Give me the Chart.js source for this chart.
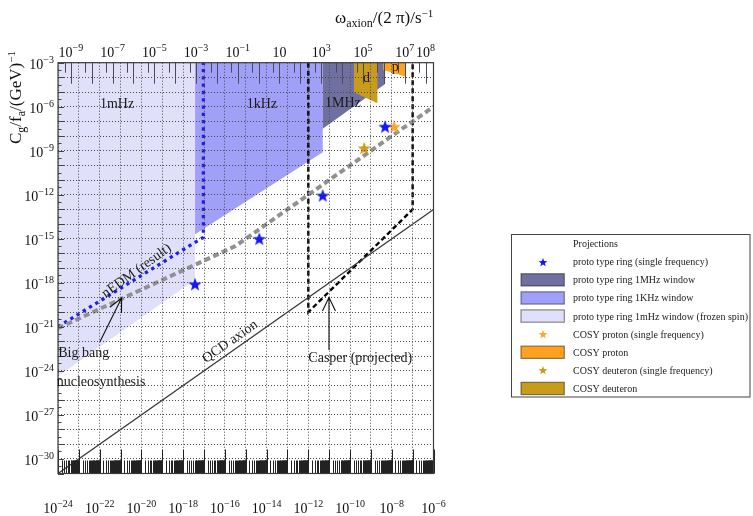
<!DOCTYPE html>
<html>
<head>
<meta charset="utf-8">
<script src="https://cdn.jsdelivr.net/npm/chart.js@4.4.1/dist/chart.umd.min.js"></script>
<style>
  html, body { margin: 0; padding: 0; background: #fff; }
  canvas { display: block; }
</style>
</head>
<body>
<canvas id="c" width="753" height="516"></canvas>
<script>
// All values are decimal exponents: log10(axion mass / eV) and log10(C_g/f_a / GeV^-1)

// tick labels (powers of ten)
const massTickExp = [-24, -22, -20, -18, -16, -14, -12, -10, -8, -6];
const couplingTickExp = [-3, -6, -9, -12, -15, -18, -21, -24, -27, -30];
const freqTickExp = [-9, -7, -5, -3, -1, 1, 3, 5, 7, 8];

// proto type ring windows
const ring1mHzMass = [-24, -24, -17.43, -17.43];
const ring1mHzCoupling = [-3, -24.37, -17.8, -3];
const ring1kHzMass = [-17.43, -17.43, -11.31, -11.31];
const ring1kHzCoupling = [-3, -14.7, -9.1, -3];
const ring1MHzMass = [-11.31, -11.31, -8.32, -8.32];
const ring1MHzCoupling = [-3, -7.5, -4.45, -3];

// COSY windows
const cosyDeuteronMass = [-9.81, -9.81, -8.69, -8.69];
const cosyDeuteronCoupling = [-3, -5.01, -5.76, -3];
const cosyProtonMass = [-8.41, -8.41, -7.32, -7.32];
const cosyProtonCoupling = [-3, -3.5, -3.95, -3];

// single frequency projections
const ringStarMass = [-17.43, -14.35, -11.31, -8.32];
const ringStarCoupling = [-18.1, -15.0, -12.05, -7.36];
const cosyProtonStarMass = [-7.89];
const cosyProtonStarCoupling = [-7.36];
const cosyDeuteronStarMass = [-9.32];
const cosyDeuteronStarCoupling = [-8.83];

// limits and theory lines
const nedmMass = [-24, -17.03, -17.03];
const nedmCoupling = [-21, -14.9, -3];
const bbnMass = [-24, -15.5, -6];
const bbnCoupling = [-21.1, -15.5, -6];
const casperMass = [-12, -12, -7, -7];
const casperCoupling = [-3, -20, -13, -3];
const qcdMass = [-24, -6];
const qcdCoupling = [-31, -13];

// annotation arrows (tail, head)
const bbnArrowMass = [-21.99, -20.95];
const bbnArrowCoupling = [-22.02, -19.04];
const casperArrowMass = [-11.01, -11.01];
const casperArrowCoupling = [-22.58, -19.0];

const HZ_PER_EV = 2.418e14;
const SERIF = '"Liberation Serif", "DejaVu Serif", serif';

const COL = {
  light: 'rgb(224,224,250)',
  mid: 'rgb(160,160,248)',
  dark: 'rgb(112,112,160)',
  gold: 'rgb(200,156,26)',
  orange: 'rgb(255,162,32)',
  blue: 'rgb(20,20,255)',
  starOrange: 'rgb(255,165,40)',
  starGold: 'rgb(205,156,22)'
};

const pts = (xs, ys) => xs.map((x, i) => ({ x: Math.pow(10, x), y: Math.pow(10, ys[i]) }));

function starImage(color, outer) {
  const inner = outer * 0.42;
  const s = Math.ceil(outer * 2 + 2);
  const cv = document.createElement('canvas');
  cv.width = s; cv.height = s;
  const g = cv.getContext('2d');
  g.beginPath();
  for (let i = 0; i < 10; i++) {
    const r = i % 2 ? inner : outer;
    const a = -Math.PI / 2 + i * Math.PI / 5;
    const px = s / 2 + r * Math.cos(a), py = s / 2 + 0.6 + r * Math.sin(a);
    if (i) g.lineTo(px, py); else g.moveTo(px, py);
  }
  g.closePath();
  g.fillStyle = color;
  g.fill();
  return cv;
}

const areaSet = (label, xs, ys, color, order) => ({
  label, data: pts(xs, ys), showLine: true, fill: 'shape',
  backgroundColor: color, borderColor: 'rgba(0,0,0,0)', borderWidth: 0,
  pointRadius: 0, order, kind: 'area'
});
const starSet = (label, xs, ys, color) => ({
  label, data: pts(xs, ys), showLine: false,
  pointStyle: starImage(color, 7), pointRadius: 7, backgroundColor: color,
  order: 1, kind: 'star', legendStar: starImage(color, 4.6)
});
const lineSet = (label, xs, ys, color, width, dash) => ({
  label, data: pts(xs, ys), showLine: true, fill: false,
  borderColor: color, borderWidth: width, borderDash: dash, borderCapStyle: 'butt',
  pointRadius: 0, order: 5, kind: 'line'
});

const datasets = [
  areaSet('proto type ring 1mHz window (frozen spin)', ring1mHzMass, ring1mHzCoupling, COL.light, 15),
  areaSet('proto type ring 1KHz window', ring1kHzMass, ring1kHzCoupling, COL.mid, 14),
  areaSet('proto type ring 1MHz window', ring1MHzMass, ring1MHzCoupling, COL.dark, 13),
  areaSet('COSY deuteron', cosyDeuteronMass, cosyDeuteronCoupling, COL.gold, 12),
  areaSet('COSY proton', cosyProtonMass, cosyProtonCoupling, COL.orange, 11),
  lineSet('QCD axion', qcdMass, qcdCoupling, 'rgb(55,55,55)', 1.3, []),
  lineSet('Big bang nucleosynthesis', bbnMass, bbnCoupling, 'rgb(145,145,145)', 4, [6, 3.5]),
  lineSet('nEDM (result)', nedmMass, nedmCoupling, 'rgb(30,30,235)', 3.3, [3.3, 4]),
  lineSet('Casper (projected)', casperMass, casperCoupling, '#000', 2.4, [5, 3]),
  starSet('proto type ring (single frequency)', ringStarMass, ringStarCoupling, COL.blue),
  starSet('COSY proton (single frequency)', cosyProtonStarMass, cosyProtonStarCoupling, COL.starOrange),
  starSet('COSY deuteron (single frequency)', cosyDeuteronStarMass, cosyDeuteronStarCoupling, COL.starGold)
];

const legendTitle = 'Projections';
const legendOrder = [
  'proto type ring (single frequency)',
  'proto type ring 1MHz window',
  'proto type ring 1KHz window',
  'proto type ring 1mHz window (frozen spin)',
  'COSY proton (single frequency)',
  'COSY proton',
  'COSY deuteron (single frequency)',
  'COSY deuteron'
];

// labels placed in data space: [text, log10 mass, log10 coupling (baseline)]
const plotLabels = [
  ['1mHz', -21.99, -6.09],
  ['1kHz', -14.95, -6.09],
  ['1MHz', -11.2, -5.99],
  ['d', -9.38, -4.34],
  ['p', -8.0, -3.59],
  ['Big bang', -23.99, -23.04],
  ['nucleosynthesis', -24.06, -25.05],
  ['Casper (projected)', -12.0, -23.37]
];
// rotated labels: [text, log10 mass, log10 coupling (centre), rotation deg]
const rotatedLabels = [
  ['nEDM (result)', -20.23, -17.19, -36],
  ['QCD axion', -15.75, -22.02, -35]
];

const decadeTicks = (lo, hi) => {
  const t = [];
  for (let e = lo; e <= hi; e++) t.push({ value: Math.pow(10, e) });
  return t;
};

function drawPow(ctx, x, y, exp, align, baseSize, expSize, raise) {
  const base = '10';
  const ex = exp === 1 ? '' : (exp < 0 ? '\u2212' + Math.abs(exp) : String(exp));
  ctx.font = baseSize + 'px ' + SERIF;
  const wb = ctx.measureText(base).width;
  ctx.font = expSize + 'px ' + SERIF;
  const we = ex ? ctx.measureText(ex).width : 0;
  const tot = wb + we;
  let x0 = align === 'right' ? x - tot : x - tot / 2;
  ctx.textAlign = 'left';
  ctx.textBaseline = 'alphabetic';
  ctx.font = baseSize + 'px ' + SERIF;
  ctx.fillText(base, x0, y);
  if (ex) {
    ctx.font = expSize + 'px ' + SERIF;
    ctx.fillText(ex, x0 + wb, y - raise);
  }
}

// run of text with sub/superscript parts: [text, size, shift]
function drawRuns(ctx, x, y, runs) {
  let cx = x;
  ctx.textAlign = 'left';
  ctx.textBaseline = 'alphabetic';
  for (const [t, size, shift] of runs) {
    ctx.font = size + 'px ' + SERIF;
    ctx.fillText(t, cx, y + shift);
    cx += ctx.measureText(t).width;
  }
}

function arrow(ctx, x1, y1, x2, y2) {
  ctx.beginPath();
  ctx.moveTo(x1, y1); ctx.lineTo(x2, y2);
  const ang = Math.atan2(y1 - y2, x1 - x2);
  const L = 15, spread = 0.45;
  ctx.moveTo(x2 + L * Math.cos(ang - spread), y2 + L * Math.sin(ang - spread));
  ctx.lineTo(x2, y2);
  ctx.lineTo(x2 + L * Math.cos(ang + spread), y2 + L * Math.sin(ang + spread));
  ctx.stroke();
}

const barcodeSteps = [1.5, 2, 2.5, 3, 3.5, 4, 4.3, 4.6, 5, 5.3, 5.6, 6, 6.3, 6.6, 7, 7.3, 7.6, 8, 8.3, 8.6, 9, 9.3, 9.6];

const decor = {
  id: 'decor',
  afterDraw(chart) {
    const { ctx, chartArea: a, scales } = chart;
    const sx = scales.x, sy = scales.y, sf = scales.xf;
    const px = e => sx.getPixelForValue(Math.pow(10, e));
    const py = e => sy.getPixelForValue(Math.pow(10, e));
    ctx.save();

    // axis ticks
    ctx.lineWidth = 1;
    ctx.strokeStyle = '#222';
    ctx.beginPath();
    for (let d = -24; d < -6; d++) {
      for (const k of barcodeSteps) {
        const x = Math.round(sx.getPixelForValue(k * Math.pow(10, d))) + 0.5;
        ctx.moveTo(x, a.bottom); ctx.lineTo(x, a.bottom - 13);
      }
    }
    ctx.stroke();
    ctx.beginPath();
    for (let d = -24; d <= -6; d++) {
      const x = Math.round(px(d)) + 0.5;
      ctx.moveTo(x, a.bottom); ctx.lineTo(x, a.bottom - 24);
    }
    ctx.stroke();

    ctx.strokeStyle = '#444';
    ctx.beginPath();
    for (let e = -31; e <= -3; e += 0.5) {
      const y = Math.round(py(e)) + 0.5;
      const len = Number.isInteger(e) ? 6 : 3.5;
      ctx.moveTo(a.left, y); ctx.lineTo(a.left + len, y);
    }
    ctx.stroke();

    ctx.strokeStyle = '#4a4a5e';
    ctx.beginPath();
    for (let e = -10; e <= 8; e++) {
      for (const [k, len] of [[1, 21], [5, 10]]) {
        const v = k * Math.pow(10, e);
        if (v < sf.min || v > sf.max) continue;
        const x = Math.round(sf.getPixelForValue(v)) + 0.5;
        ctx.moveTo(x, a.top); ctx.lineTo(x, a.top + len);
      }
    }
    ctx.stroke();

    // frame
    ctx.strokeStyle = '#3c3c3c';
    ctx.lineWidth = 1.2;
    ctx.strokeRect(a.left, a.top, a.right - a.left, a.bottom - a.top);

    // tick labels
    ctx.fillStyle = '#111';
    for (const e of massTickExp) drawPow(ctx, px(e), 512.5, e, 'center', 14, 10, 5.5);
    for (const e of couplingTickExp) drawPow(ctx, 54, py(e) + 6.5, e, 'right', 14, 10, 6);
    for (const e of freqTickExp) drawPow(ctx, sf.getPixelForValue(Math.pow(10, e)), 56.7, e, 'center', 14, 10, 6);

    // axis titles
    drawRuns(ctx, 335, 22.7, [['\u03c9', 17, 0], ['axion', 12, 4], ['/(2 \u03c0)/s', 17, 0], ['\u22121', 11, -5.5]]);
    ctx.save();
    ctx.translate(21, 144);
    ctx.rotate(-Math.PI / 2);
    drawRuns(ctx, 0, 0, [['C', 17, 0], ['g', 12, 4], ['/f', 17, 0], ['a', 12, 4], ['/(GeV)', 17, 0], ['\u22121', 11, -6]]);
    ctx.restore();

    // region and curve labels
    ctx.fillStyle = '#1a1a1a';
    ctx.font = '14px ' + SERIF;
    ctx.textBaseline = 'alphabetic';
    ctx.textAlign = 'left';
    for (const [t, m, c] of plotLabels) ctx.fillText(t, px(m), py(c));
    for (const [t, m, c, rot] of rotatedLabels) {
      ctx.save();
      ctx.translate(px(m), py(c));
      ctx.rotate(rot * Math.PI / 180);
      ctx.textAlign = 'center';
      ctx.textBaseline = 'middle';
      ctx.fillText(t, 0, 0);
      ctx.restore();
    }

    // arrows
    ctx.strokeStyle = '#111';
    ctx.lineWidth = 1.1;
    arrow(ctx, px(bbnArrowMass[0]), py(bbnArrowCoupling[0]), px(bbnArrowMass[1]), py(bbnArrowCoupling[1]));
    arrow(ctx, px(casperArrowMass[0]), py(casperArrowCoupling[0]), px(casperArrowMass[1]), py(casperArrowCoupling[1]));

    // legend
    const L = { x: 511.5, y: 234.5, w: 238.5, h: 162.5, sym: 542.7, text: 573, first: 261.7, step: 18.1 };
    ctx.fillStyle = '#fff';
    ctx.fillRect(L.x, L.y, L.w, L.h);
    ctx.strokeStyle = '#444';
    ctx.lineWidth = 1;
    ctx.strokeRect(L.x, L.y, L.w, L.h);
    ctx.fillStyle = '#1a1a1a';
    ctx.font = '10px ' + SERIF;
    ctx.textAlign = 'left';
    ctx.textBaseline = 'alphabetic';
    ctx.fillText(legendTitle, L.text, 246.8);
    legendOrder.forEach((name, i) => {
      const ds = chart.data.datasets.find(d => d.label === name);
      const cy = L.first + i * L.step;
      if (ds.kind === 'area') {
        ctx.fillStyle = ds.backgroundColor;
        ctx.fillRect(521, cy - 6.1, 43.3, 12.3);
        ctx.strokeStyle = 'rgba(0,0,0,0.45)';
        ctx.lineWidth = 1.2;
        ctx.strokeRect(521, cy - 6.1, 43.3, 12.3);
      } else {
        const img = ds.legendStar;
        ctx.drawImage(img, Math.round(L.sym - img.width / 2), Math.round(cy - img.height / 2));
      }
      ctx.fillStyle = '#1a1a1a';
      ctx.font = '10px ' + SERIF;
      ctx.fillText(name, L.text, cy + 3.5);
    });
    ctx.restore();
  }
};

const gridStyle = { color: '#4a4a4a', lineWidth: 1, z: 1, drawTicks: false };
const gridBorder = { display: false, dash: [1, 2] };

new Chart(document.getElementById('c'), {
  type: 'scatter',
  data: { datasets },
  options: {
    responsive: false,
    animation: false,
    devicePixelRatio: 1,
    events: [],
    layout: { padding: { left: 0, top: 0, right: 319.5, bottom: 0 } },
    plugins: { legend: { display: false }, tooltip: { enabled: false } },
    scales: {
      x: {
        type: 'logarithmic', position: 'bottom', min: 1e-24, max: 1e-6,
        afterBuildTicks: s => { s.ticks = decadeTicks(-24, -6); },
        afterFit: s => { s.height = 42.5; },
        ticks: { display: false, autoSkip: false },
        grid: gridStyle, border: gridBorder
      },
      xf: {
        type: 'logarithmic', position: 'top', axis: 'x',
        min: 1e-24 * HZ_PER_EV, max: 1e-6 * HZ_PER_EV,
        afterBuildTicks: s => { s.ticks = freqTickExp.map(e => ({ value: Math.pow(10, e) })); },
        afterFit: s => { s.height = 62.7; },
        ticks: { display: false, autoSkip: false },
        grid: { display: false }, border: { display: false }
      },
      y: {
        type: 'logarithmic', position: 'left', min: 1e-31, max: 1e-3,
        afterBuildTicks: s => { s.ticks = decadeTicks(-31, -3); },
        afterFit: s => { s.width = 58; },
        ticks: { display: false, autoSkip: false },
        grid: gridStyle, border: gridBorder
      }
    }
  },
  plugins: [decor]
});
</script>
</body>
</html>
